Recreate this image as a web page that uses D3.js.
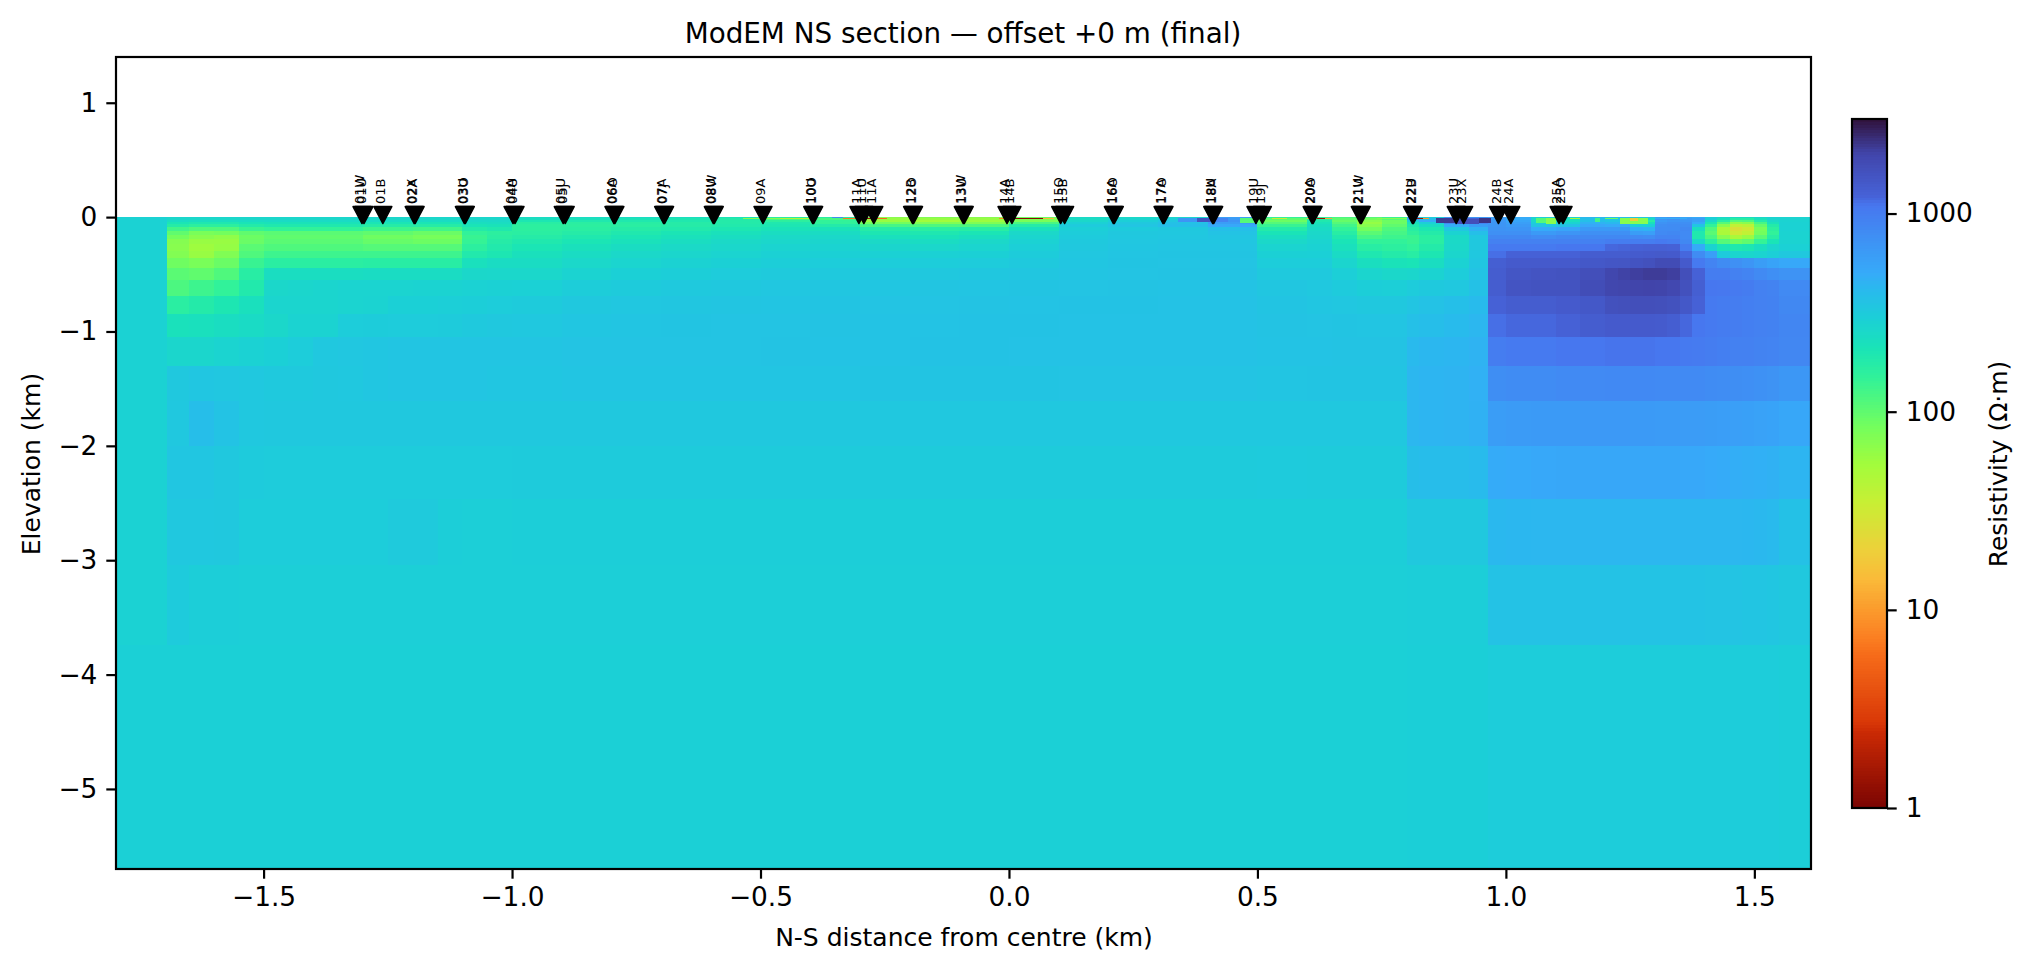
<!doctype html>
<html lang="en">
<head>
    <meta charset="utf-8">
    <title>ModEM NS section</title>
    <script src="https://cdnjs.cloudflare.com/ajax/libs/d3/7.8.5/d3.min.js"></script>
    <style>
        body { margin: 0; background: #fff; overflow: hidden; }
        svg { display: block; }
        text { font-family: "DejaVu Sans", sans-serif; fill: #000; }
        .tick line, .spine { stroke: #000; stroke-width: 2.2; }
        .domain { display: none; }
    </style>
</head>
<body>
    <div id="chart"></div>
    <script>
        // mesh (km)
        var colEdges = [-1.694, -1.65, -1.60, -1.55, -1.50, -1.45, -1.40, -1.35, -1.30, -1.25, -1.20, -1.15, -1.10, -1.05, -1.00,
            -0.90, -0.80, -0.70, -0.60, -0.50, -0.40, -0.30, -0.20, -0.10, 0.00, 0.10, 0.20, 0.30, 0.40, 0.50, 0.60,
            0.65, 0.70, 0.75, 0.80, 0.825, 0.875, 0.925, 0.965,
            1.00, 1.05, 1.10, 1.15, 1.20, 1.225, 1.25, 1.275, 1.30, 1.325, 1.35, 1.375, 1.40, 1.425, 1.45, 1.475, 1.50, 1.525, 1.55, 1.62];
        var depthEdges = [0, 0.012, 0.024, 0.04, 0.06, 0.085, 0.119, 0.154, 0.192, 0.236, 0.294, 0.361, 0.446, 0.551, 0.69,
            0.848, 1.046, 1.30, 1.61, 2.0, 2.465, 3.04, 3.74, 5.7];

        // resistivity in ohm-m, one row per depth layer, one value per column
        var rhoRows = [
            [265,265,265,265,265,265,265,265,265,265,265,265,265,265, 240,240,240,230,210,170,170,70,75,70,90,250,250,270,600,150, 160,120,110,140,500,300,700,700, 600,500,300,280,420, 380,380,330,330,600,650,550,500, 300,260,230,230,260,280, 275],
            [260,255,255,260,260,260,260,260,255,255,255,255,260,260, 230,220,210,200,180,120,120,60,60,60,75,240,270,300,650,100, 170,100,85,110,600,400,1200,1300, 650,500,260,230,380, 350,350,260,250,700,750,650,600, 300,220,170,170,220,270, 280],
            [240,230,230,240,245,245,245,245,240,240,240,240,250,250, 200,190,190,190,180,160,150,60,55,58,80,260,300,340,700,90, 190,95,70,90,300,500,1500,1500, 680,550,260,230,380, 350,350,180,170,650,700,700,600, 260,170,110,115,180,250, 280],
            [205,195,195,210,215,215,215,215,205,205,205,205,230,235, 170,165,170,175,180,190,150,85,75,75,120,290,330,370,620,110, 210,110,62,90,220,300,800,900, 700,600,300,280,450, 420,420,230,220,720,760,760,500, 200,110,65,70,125,220, 285],
            [175,160,160,180,190,190,190,190,175,175,175,175,210,215, 160,160,165,175,185,200,180,125,115,115,175,320,350,380,520,140, 230,130,70,100,190,240,500,620, 700,650,350,360,520, 500,500,300,290,780,800,800,350, 150,70,38,42,95,180, 285],
            [130,115,115,140,150,150,150,150,135,135,130,130,180,190, 160,165,175,185,200,215,215,175,165,170,225,300,320,330,380,180, 245,150,85,115,170,200,340,460, 720,700,500,550,650, 650,650,480,450,800,800,850,230, 115,48,27,32,80,160, 285],
            [100,80,85,100,105,105,105,105,100,100,92,92,150,160, 165,175,190,205,220,235,240,200,195,205,255,310,330,335,360,210, 255,170,105,125,155,180,280,380, 750,750,650,700,750, 750,750,620,600,830,850,820,190, 105,50,32,38,85,150, 280],
            [85,70,65,90,100,100,100,100,88,88,82,82,140,165, 175,190,205,220,235,250,255,225,215,230,270,320,335,340,350,235, 265,190,125,135,140,165,250,340, 850,850,800,850,850, 850,850,820,800,900,900,820,190, 120,70,50,60,105,170, 280],
            [72,60,60,92,105,105,105,105,95,95,90,90,145,175, 190,205,220,235,250,262,268,250,240,255,285,325,340,345,345,255, 275,210,150,150,140,165,250,330, 950,950,950,950,950, 1000,1000,1000,1000,1050,1000,850,250, 160,110,90,100,145,210, 280],
            [70,57,62,105,115,115,115,115,110,110,110,110,160,185, 205,222,238,250,262,275,280,268,262,272,300,330,345,350,350,275, 285,225,170,160,150,180,255,330, 1050,1050,1050,1100,1100, 1200,1220,1250,1270,1280,1250,1000,500, 280,210,190,200,230,270, 290],
            [74,60,75,115,135,135,135,135,135,135,135,135,185,200, 222,240,255,265,275,288,292,288,288,292,312,338,350,352,352,292, 295,245,195,180,170,200,265,335, 1150,1250,1250,1250,1350, 1350,1350,1380,1400,1420,1400,1200,800, 600,320,270,265,275,300, 330],
            [88,80,92,140,165,165,165,165,170,170,170,170,225,240, 240,258,272,282,292,305,310,310,310,315,328,345,352,355,355,310, 310,270,230,215,210,235,285,345, 1300,1400,1400,1400,1450, 1500,1520,1580,1650,1800,1800,1400,1050, 900,800,750,700,620,560, 520],
            [105,100,115,170,235,235,235,235,240,240,240,240,260,262, 262,280,295,305,315,322,328,332,332,336,342,350,355,358,358,328, 325,300,270,260,265,280,310,360, 1350,1500,1550,1600,1700, 1950,2050,2100,2150,2150,2100,1700,1250, 1000,1000,950,900,820,760, 720],
            [118,135,150,185,260,265,270,275,275,275,280,280,285,288, 290,308,318,326,332,338,342,345,346,350,352,356,358,360,360,342, 335,320,305,300,315,325,335,370, 1350,1550,1600,1600,1750, 1950,1980,2000,2020,2000,1900,1650,1300, 1100,1080,1050,1020,950,920, 830],
            [165,180,200,225,270,270,270,275,280,295,295,300,305,310, 318,332,338,342,346,350,352,354,356,358,360,362,362,364,364,352, 345,340,330,330,350,365,380,405, 1250,1350,1350,1400,1450, 1650,1680,1700,1700,1680,1620,1450,1250, 1050,1020,1000,980,950,930, 850],
            [220,225,235,245,260,280,280,310,312,315,315,318,325,332, 335,345,350,352,354,356,358,360,360,362,362,364,366,366,366,358, 355,352,350,350,375,390,405,430, 1150,1200,1200,1250,1350, 1400,1400,1400,1400,1380,1320,1200,1100, 1050,1020,1000,980,950,930, 880],
            [265,265,275,285,295,310,335,340,345,350,350,350,350,350, 350,355,355,355,355,358,360,360,362,362,364,366,366,366,366,360, 360,358,358,358,410,425,435,450, 1000,1050,1050,1100,1100, 1120,1120,1120,1120,1100,1100,1060,1040, 1000,980,950,940,920,900, 870],
            [330,345,340,335,325,325,330,335,345,350,350,350,350,345, 345,348,348,348,350,350,350,352,352,352,352,354,354,354,354,350, 352,352,352,352,430,440,445,465, 780,800,800,820,830, 840,840,840,840,830,830,820,820, 800,790,780,770,740,720, 680],
            [335,390,360,335,330,330,330,330,330,330,330,330,330,330, 330,332,332,332,332,332,332,334,334,334,334,334,334,334,334,334, 335,335,335,335,430,440,445,460, 620,640,650,650,660, 660,660,650,650,640,640,630,630, 620,610,600,590,570,560, 530],
            [345,345,330,320,315,315,315,315,315,315,315,315,315,315, 318,318,318,318,318,318,318,318,318,318,318,318,318,318,318,320, 318,318,318,318,385,395,395,405, 500,510,520,530,530, 530,530,530,530,530,530,520,520, 510,500,480,475,470,460, 440],
            [335,335,330,310,310,310,310,310,310,322,322,305,300,300, 303,303,303,303,303,303,303,303,303,303,303,303,303,303,303,303, 303,303,303,303,330,330,330,330, 420,425,430,430,430, 430,430,430,430,430,430,430,430, 430,430,430,425,420,410, 370],
            [320,305,305,298,298,298,298,298,298,298,298,298,298,298, 298,298,298,298,298,298,298,298,298,298,298,298,298,298,298,298, 298,298,298,298,302,302,302,302, 365,365,365,365,365, 365,365,360,360,360,360,360,360, 355,355,355,350,350,345, 330],
            [295,295,295,295,295,295,295,295,295,295,295,295,295,295, 295,295,295,295,295,295,295,295,295,295,295,295,295,295,295,295, 295,295,295,295,297,297,297,297, 310,310,310,310,310, 310,310,310,310,310,310,310,310, 310,310,310,310,310,310, 305]
        ];

        // thin near-surface cells: x0, x1, depth top, depth bottom, resistivity
        var surfacePatches = [
            [-0.535, -0.46, 0.006, 0.016, 70], [-0.46, -0.395, 0.006, 0.016, 45],
            [-0.356, -0.334, 0.000, 0.012, 800], [-0.334, -0.30, 0.004, 0.017, 7], [-0.30, -0.277, 0.004, 0.017, 1.4], [-0.277, -0.245, 0.004, 0.017, 6],
            [-0.02, -0.004, 0.004, 0.017, 8], [-0.004, 0.068, 0.004, 0.017, 1.2], [0.068, 0.09, 0.004, 0.017, 14],
            [0.34, 0.40, 0.012, 0.04, 700], [0.40, 0.44, 0.012, 0.04, 900], [0.378, 0.41, 0.012, 0.04, 1600],
            [0.465, 0.50, 0.004, 0.05, 110], [0.53, 0.56, 0.006, 0.018, 35],
            [0.60, 0.62, 0.006, 0.018, 15], [0.62, 0.636, 0.006, 0.018, 1.5], [0.636, 0.65, 0.006, 0.018, 12],
            [0.74, 0.80, 0.006, 0.016, 70], [0.82, 0.834, 0.006, 0.018, 1.5], [0.834, 0.845, 0.006, 0.018, 10],
            [0.86, 0.90, 0.012, 0.05, 2200], [0.90, 0.945, 0.015, 0.06, 1700], [0.945, 0.97, 0.012, 0.05, 2300],
            [1.06, 1.08, 0.01, 0.05, 110], [1.08, 1.10, 0.01, 0.06, 70], [1.13, 1.15, 0.006, 0.018, 50],
            [1.18, 1.19, 0.012, 0.04, 130], [1.20, 1.225, 0.006, 0.018, 90],
            [1.23, 1.285, 0.008, 0.06, 70], [1.25, 1.265, 0.008, 0.035, 20],
            [1.30, 1.365, 0.004, 0.016, 500]
        ];

        var backgroundRho = 295;
        var sideRho = 285;

        // stations along the profile
        var stationX = [-1.302, -1.298, -1.26, -1.197, -1.195, -1.096, -1.094, -0.998, -0.994, -0.897, -0.893, -0.795, -0.793,
            -0.695, -0.693, -0.595, -0.593, -0.495, -0.395, -0.393, -0.302, -0.292, -0.272, -0.194, -0.192, -0.092, -0.090,
            -0.004, 0.006, 0.104, 0.112, 0.21, 0.212, 0.31, 0.312, 0.41, 0.412, 0.497, 0.51, 0.61, 0.612, 0.707, 0.709,
            0.812, 0.814, 0.90, 0.915, 0.985, 1.01, 1.107, 1.115];
        var stationNames = ["01W", "01U", "01B", "02X", "02A", "03U", "03O", "04A", "04U", "05U", "05J", "06A", "06O",
            "07A", "07J", "08U", "08W", "09A", "10U", "10O", "11A", "11U", "11A", "12B", "12O", "13W", "13U",
            "14A", "14B", "15O", "15B", "16A", "16O", "17A", "17O", "18U", "18A", "19U", "19J", "20A", "20O", "21U", "21W",
            "22U", "22B", "23U", "23X", "24B", "24A", "25A", "25O"];

        var xTicks = [-1.5, -1.0, -0.5, 0.0, 0.5, 1.0, 1.5];
        var yTicks = [1, 0, -1, -2, -3, -4, -5];
        var rhoTicks = [1, 10, 100, 1000];

        // turbo colormap stops (position, colour)
        var turboPos = [0, 0.05, 0.111, 0.125, 0.222, 0.25, 0.29, 0.333, 0.375, 0.444, 0.5, 0.556, 0.625, 0.667, 0.75, 0.778, 0.875, 0.889, 1];
        var turboCol = ["#30123b", "#4145ab", "#4662d7", "#4777ef", "#36aaf9", "#28bbec", "#1bd0d6", "#1ae4b6", "#31f299", "#72fe5e", "#a2fc3c",
            "#c8ef34", "#edd03a", "#faba39", "#fb8022", "#f66b19", "#d93807", "#cb2a04", "#7a0403"];

        var width = 2031, height = 972;
        var plot = { left: 116, right: 1811, top: 57, bottom: 869 };
        var bar = { left: 1852, right: 1887, top: 119, bottom: 808 };

        var xScale = d3.scaleLinear().domain([-1.797, 1.614]).range([plot.left, plot.right]);
        var yScale = d3.scaleLinear().domain([1.4, -5.7]).range([plot.top, plot.bottom]);
        var rhoPos = d3.scaleLog().domain([1, 3000]).range([1, 0]);
        var turbo = d3.scaleLinear().domain(turboPos).range(turboCol).interpolate(d3.interpolateRgb);
        var color = function (rho) { return turbo(rhoPos(rho)); };
        var barScale = d3.scaleLog().domain([1, 3000]).range([bar.bottom, bar.top]);

        var svg = d3.select("#chart").append("svg")
            .attr("width", width)
            .attr("height", height);

        svg.append("clipPath").attr("id", "plotClip").append("rect")
            .attr("x", plot.left).attr("y", plot.top)
            .attr("width", plot.right - plot.left).attr("height", plot.bottom - plot.top);

        var section = svg.append("g")
            .attr("clip-path", "url(#plotClip)")
            .attr("shape-rendering", "crispEdges");

        // uniform background below the surface
        section.append("rect")
            .attr("x", xScale(-1.797)).attr("y", yScale(0))
            .attr("width", xScale(1.62) - xScale(-1.797)).attr("height", yScale(-5.7) - yScale(0))
            .attr("fill", color(backgroundRho));
        section.append("rect")
            .attr("x", xScale(-1.797)).attr("y", yScale(0))
            .attr("width", xScale(colEdges[0]) - xScale(-1.797)).attr("height", yScale(-3.74) - yScale(0))
            .attr("fill", color(sideRho));

        // model cells
        var cells = [];
        rhoRows.forEach(function (row, r) {
            row.forEach(function (rho, c) {
                cells.push({ x0: colEdges[c], x1: colEdges[c + 1], z0: depthEdges[r], z1: depthEdges[r + 1], rho: rho });
            });
        });
        surfacePatches.forEach(function (p) {
            cells.push({ x0: p[0], x1: p[1], z0: p[2], z1: p[3], rho: p[4] });
        });

        section.selectAll("rect.cell")
            .data(cells)
            .enter()
            .append("rect")
            .attr("class", "cell")
            .attr("x", function (d) { return xScale(d.x0); })
            .attr("y", function (d) { return yScale(-d.z0); })
            .attr("width", function (d) { return xScale(d.x1) - xScale(d.x0); })
            .attr("height", function (d) { return yScale(-d.z1) - yScale(-d.z0); })
            .attr("fill", function (d) { return color(d.rho); });

        // station markers and names
        svg.selectAll("path.station")
            .data(stationX)
            .enter()
            .append("path")
            .attr("class", "station")
            .attr("d", "M-9,-8.5L9,-8.5L0,8.5Z")
            .attr("stroke", "#000")
            .attr("stroke-width", 1.4)
            .attr("stroke-linejoin", "round")
            .attr("transform", function (d) { return "translate(" + xScale(d) + "," + yScale(0.018) + ")"; })
            .attr("fill", "#000");

        svg.selectAll("text.station")
            .data(stationX)
            .enter()
            .append("text")
            .attr("class", "station")
            .attr("transform", function (d) { return "translate(" + (xScale(d) - 2.5) + "," + yScale(0.114) + ") rotate(-90)"; })
            .attr("dy", ".36em")
            .style("font-size", "13px")
            .text(function (d, i) { return stationNames[i]; });

        // axes
        var xAxis = d3.axisBottom(xScale).tickValues(xTicks).tickFormat(d3.format(".1f")).tickSize(9.7).tickPadding(9);
        svg.append("g")
            .attr("class", "x axis")
            .attr("transform", "translate(0," + plot.bottom + ")")
            .call(xAxis);

        var yAxis = d3.axisLeft(yScale).tickValues(yTicks).tickFormat(d3.format("d")).tickSize(9.7).tickPadding(9);
        svg.append("g")
            .attr("class", "y axis")
            .attr("transform", "translate(" + plot.left + ",0)")
            .call(yAxis);

        svg.selectAll(".axis text").style("font-size", "26.4px").style("font-family", "'DejaVu Sans', sans-serif");

        svg.append("rect")
            .attr("class", "spine")
            .attr("x", plot.left).attr("y", plot.top)
            .attr("width", plot.right - plot.left).attr("height", plot.bottom - plot.top)
            .attr("fill", "none");

        svg.append("text")
            .attr("x", 963).attr("y", 43)
            .attr("text-anchor", "middle")
            .style("font-size", "27.8px")
            .text("ModEM NS section \u2014 offset +0 m (final)");

        svg.append("text")
            .attr("x", 964).attr("y", 946)
            .attr("text-anchor", "middle")
            .style("font-size", "25px")
            .text("N-S distance from centre (km)");

        svg.append("text")
            .attr("transform", "translate(40,464) rotate(-90)")
            .attr("text-anchor", "middle")
            .style("font-size", "25px")
            .text("Elevation (km)");

        // colorbar, one strip per colour step
        var barSteps = d3.range(0, 256);
        var barLog = d3.scaleLinear().domain([0, 256]).range([0, Math.log10(3000)]);
        svg.append("g")
            .attr("shape-rendering", "crispEdges")
            .selectAll("rect")
            .data(barSteps)
            .enter()
            .append("rect")
            .attr("x", bar.left)
            .attr("width", bar.right - bar.left)
            .attr("y", function (d) { return barScale(Math.pow(10, barLog(d + 1))); })
            .attr("height", function (d) { return barScale(Math.pow(10, barLog(d))) - barScale(Math.pow(10, barLog(d + 1))) + 0.6; })
            .attr("fill", function (d) { return color(Math.pow(10, barLog(d + 0.5))); });

        var barAxis = d3.axisRight(barScale).tickValues(rhoTicks).tickFormat(d3.format("d")).tickSize(9.7).tickPadding(9);
        svg.append("g")
            .attr("class", "bar axis")
            .attr("transform", "translate(" + bar.right + ",0)")
            .call(barAxis);
        svg.selectAll(".bar.axis text").style("font-size", "26.4px");

        svg.append("rect")
            .attr("class", "spine")
            .attr("x", bar.left).attr("y", bar.top)
            .attr("width", bar.right - bar.left).attr("height", bar.bottom - bar.top)
            .attr("fill", "none");

        svg.append("text")
            .attr("transform", "translate(1998,464) rotate(-90)")
            .attr("text-anchor", "middle")
            .attr("dy", ".35em")
            .style("font-size", "25px")
            .text("Resistivity (\u03a9\u00b7m)");
    </script>
</body>
</html>
